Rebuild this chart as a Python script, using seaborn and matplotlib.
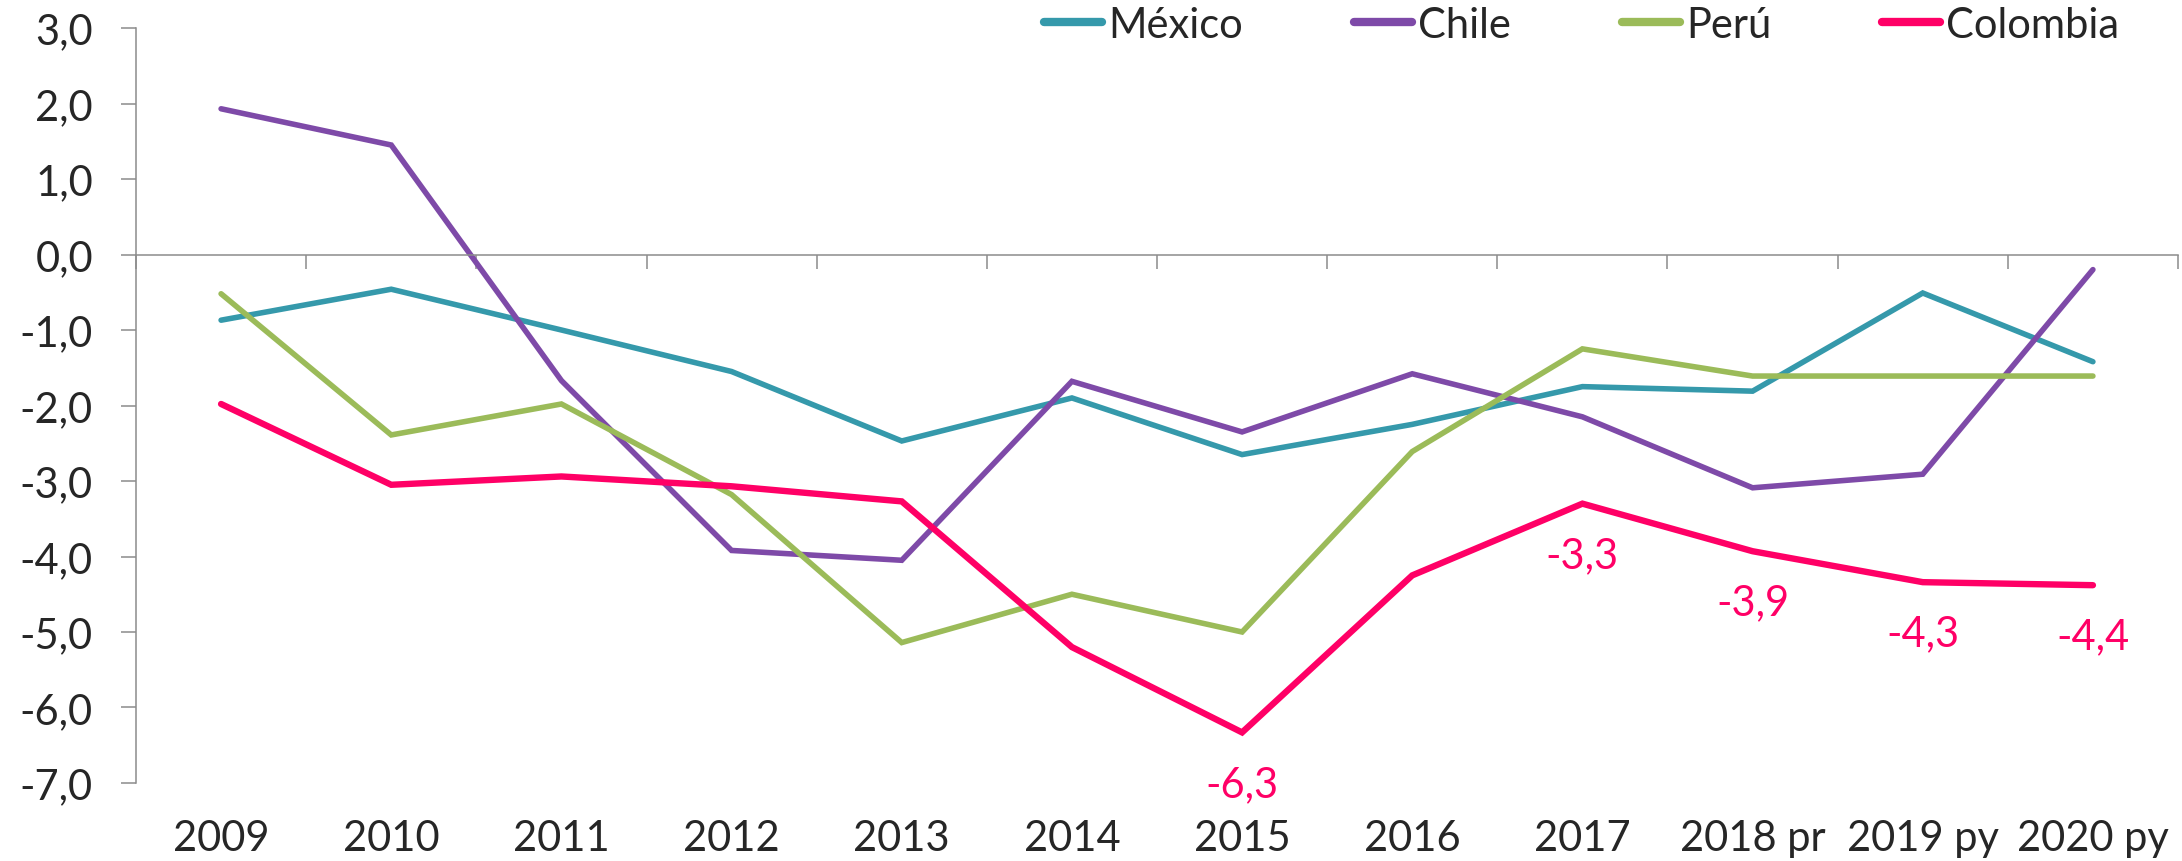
import numpy as np
import pandas as pd
import seaborn as sns
import matplotlib
matplotlib.use("Agg")
import matplotlib.pyplot as plt
from matplotlib.ticker import FuncFormatter, FixedLocator
from matplotlib.lines import Line2D

# ---- data ----
years = ["2009", "2010", "2011", "2012", "2013", "2014", "2015", "2016",
         "2017", "2018 pr", "2019 py", "2020 py"]
mexico = [-0.87, -0.46, -1.00, -1.55, -2.47, -1.90, -2.65, -2.25, -1.75, -1.81, -0.51, -1.42]
chile = [1.93, 1.45, -1.67, -3.92, -4.05, -1.68, -2.35, -1.58, -2.15, -3.09, -2.91, -0.20]
peru = [-0.52, -2.39, -1.98, -3.18, -5.14, -4.50, -5.00, -2.61, -1.25, -1.61, -1.61, -1.61]
colombia = [-1.98, -3.05, -2.94, -3.07, -3.27, -5.20, -6.33, -4.25, -3.30, -3.93, -4.34, -4.38]
countries = ["México", "Chile", "Perú", "Colombia"]
colors = ["#3599AB", "#7E4AA8", "#9BBB59", "#FF0066"]
label_idx = [6, 8, 9, 10, 11]  # Colombia points with data labels

series = [mexico, chile, peru, colombia]
rows = []
for name, vals in zip(countries, series):
    for i, v in enumerate(vals):
        rows.append({"pos": i, "year": years[i], "country": name, "value": v})
df = pd.DataFrame(rows)

# ---- style ----
sns.set_style("white")
plt.rcParams["font.family"] = ["Lato", "DejaVu Sans"]
FS = 30
TXT = "#262626"
SPINE = "#8C8C8C"

W, H = 2182, 862
fig = plt.figure(figsize=(W / 100, H / 100), dpi=100)
ax = fig.add_axes([136 / W, 1 - 784 / H, (2178 - 136) / W, (784 - 29) / H])

sns.lineplot(data=df, x="pos", y="value", hue="country", hue_order=countries,
             palette=dict(zip(countries, colors)), ax=ax, linewidth=4,
             legend=False, sort=False)
for line in ax.get_lines():
    line.set_solid_joinstyle("miter")
    line.set_solid_capstyle("round")
ax.get_lines()[3].set_linewidth(4.6)

ax.set_xlim(-0.5, len(years) - 0.5)
ax.set_ylim(-7, 3)
ax.set_xlabel("")
ax.set_ylabel("")

# y axis
ax.set_yticks(np.arange(-7, 3.01, 1))
ax.yaxis.set_major_formatter(FuncFormatter(lambda v, p: f"{v:.1f}".replace(".", ",")))
ax.tick_params(axis="y", direction="out", length=11, width=1.1, color=SPINE,
               labelsize=FS, labelcolor=TXT, pad=20, left=True)

# x axis line at zero with boundary ticks
for s in ["top", "right"]:
    ax.spines[s].set_visible(False)
ax.spines["bottom"].set_position(("data", 0))
for s in ["left", "bottom"]:
    ax.spines[s].set_color(SPINE)
    ax.spines[s].set_linewidth(1.1)
ax.xaxis.set_major_locator(FixedLocator(np.arange(-0.5, len(years), 1.0)))
ax.tick_params(axis="x", direction="out", length=10, width=1.1, color=SPINE,
               labelbottom=False, bottom=True)

# category labels at the bottom of the plot
sec = ax.secondary_xaxis(0.0)
sec.set_xticks(np.arange(len(years)))
sec.set_xticklabels(years)
sec.tick_params(axis="x", length=0, labelsize=FS, labelcolor=TXT, pad=26)
sec.spines["bottom"].set_visible(False)

# data labels for Colombia
for i in label_idx:
    v = colombia[i]
    ax.annotate(f"{v:.1f}".replace(".", ","), xy=(i, v), xytext=(0, -37),
                textcoords="offset points", ha="center", va="center",
                fontsize=FS, color=colors[3])

# legend
handles = [Line2D([0], [0], color=c, lw=6, solid_capstyle="round") for c in colors]
fig.legend(handles, countries, loc="center left", bbox_to_anchor=(1044 / W, 1 - 26 / H),
           ncol=4, frameon=False, fontsize=FS, handlelength=1.4, handletextpad=0.15,
           columnspacing=2.65, borderpad=0, borderaxespad=0, labelcolor=TXT)

fig.savefig("out.png", dpi=100, facecolor="white")
